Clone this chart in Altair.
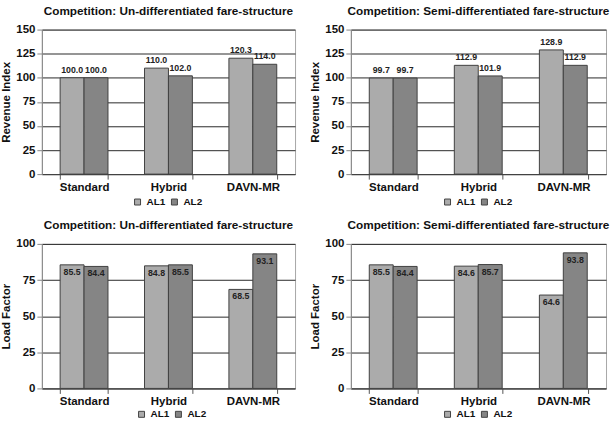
import altair as alt
import pandas as pd

# Pricing methods and competing airlines
categories = ["Standard", "Hybrid", "DAVN-MR"]
airlines = ["AL1", "AL2"]

# Revenue index, un-differentiated fare structure
rev_undiff_al1 = [100.0, 110.0, 120.3]
rev_undiff_al2 = [100.0, 102.0, 114.0]
# Revenue index, semi-differentiated fare structure
rev_semi_al1 = [99.7, 112.9, 128.9]
rev_semi_al2 = [99.7, 101.9, 112.9]
# Load factor, un-differentiated fare structure
lf_undiff_al1 = [85.5, 84.8, 68.5]
lf_undiff_al2 = [84.4, 85.5, 93.1]
# Load factor, semi-differentiated fare structure
lf_semi_al1 = [85.5, 84.6, 64.6]
lf_semi_al2 = [84.4, 85.7, 93.8]

rev_ticks = [0, 25, 50, 75, 100, 125, 150]
lf_ticks = [0, 25, 50, 75, 100]

FONT = "Liberation Sans"
BAR_COLORS = ["#ababab", "#858585"]


def panel(al1, al2, title, ytitle, ticks, inside, width, legend_x, legend_y):
    df = pd.DataFrame({
        "method": categories * 2,
        "airline": [airlines[0]] * 3 + [airlines[1]] * 3,
        "value": al1 + al2,
    })
    x = alt.X(
        "method:N",
        sort=categories,
        scale=alt.Scale(paddingInner=0.433, paddingOuter=0.2165),
        axis=alt.Axis(
            title=None, labelAngle=0, tickBand="extent", tickSize=5,
            tickColor="#555", domainColor="#444", labelFont=FONT,
            labelFontWeight="bold", labelFontSize=11.5, labelColor="#111",
            labelPadding=2,
        ),
    )
    y = alt.Y(
        "value:Q",
        scale=alt.Scale(domain=[ticks[0], ticks[-1]], nice=False),
        axis=alt.Axis(
            values=ticks, title=ytitle, titleFont=FONT, titleFontWeight="bold",
            titleFontSize=11.5, titleColor="#111", titlePadding=4,
            labelFont=FONT, labelFontWeight="bold", labelFontSize=11.5,
            labelColor="#111", tickSize=5, tickColor="#888",
            domainColor="#888", gridColor="#2a2a2a", gridWidth=1,
            labelPadding=2,
        ),
    )
    xo = alt.XOffset("airline:N", sort=airlines,
                     scale=alt.Scale(paddingInner=0, paddingOuter=0))
    base = alt.Chart(df).encode(x=x, y=y, xOffset=xo)
    bars = base.mark_bar(stroke="#404040", strokeWidth=1).encode(
        color=alt.Color(
            "airline:N",
            scale=alt.Scale(domain=airlines, range=BAR_COLORS),
            legend=alt.Legend(
                title=None, orient="none", legendX=legend_x, legendY=legend_y,
                direction="horizontal",
                symbolType="square", symbolSize=36, symbolStrokeColor="#444",
                symbolStrokeWidth=1, labelFont=FONT, labelFontWeight="bold",
                labelFontSize=10, labelColor="#111", columnPadding=4,
                labelOffset=4, padding=0,
            ),
        )
    )
    if inside:
        text = base.mark_text(baseline="top", dy=3, font=FONT,
                              fontWeight="bold", fontSize=8.8, color="#222")
    else:
        text = base.mark_text(baseline="alphabetic", dy=-5, font=FONT,
                              fontWeight="bold", fontSize=8.8, color="#222")
    text = text.encode(text=alt.Text("value:Q", format=".1f"))
    return alt.layer(bars, text).properties(
        width=width, height=145,
        title=alt.TitleParams(title, font=FONT, fontWeight="bold",
                              fontSize=11.8, color="#111", offset=6),
    )


p1 = panel(rev_undiff_al1, rev_undiff_al2,
           "Competition: Un-differentiated fare-structure",
           "Revenue Index", rev_ticks, False, 254, 91, 168)
p2 = panel(rev_semi_al1, rev_semi_al2,
           "Competition: Semi-differentiated  fare-structure",
           "Revenue Index", rev_ticks, False, 256, 92, 168)
p3 = panel(lf_undiff_al1, lf_undiff_al2,
           "Competition: Un-differentiated fare-structure",
           "Load Factor", lf_ticks, True, 254, 95, 166)
p4 = panel(lf_semi_al1, lf_semi_al2,
           "Competition: Semi-differentiated fare-structure",
           "Load Factor", lf_ticks, True, 256, 92, 166)

top = alt.hconcat(p1, p2, spacing=13).resolve_scale(color="independent")
bottom = alt.hconcat(p3, p4, spacing=13).resolve_scale(color="independent")

chart = (
    alt.vconcat(top, bottom, spacing=11)
    .resolve_scale(color="independent")
    .properties(padding={"left": 0, "top": 4, "right": 0, "bottom": 0},
                background="white")
    .configure_view(stroke="#a8a8a8", strokeWidth=1)
)

chart.save("out.html", embed_options={"renderer": "svg", "actions": False})
